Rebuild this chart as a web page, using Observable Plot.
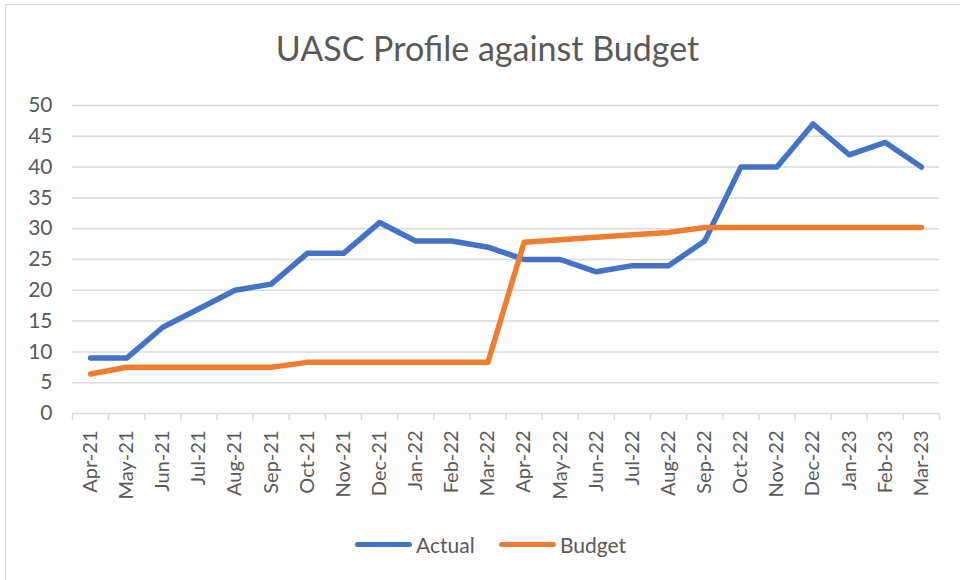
<!DOCTYPE html>
<html>
<head>
<meta charset="utf-8">
<script src="https://cdn.jsdelivr.net/npm/d3@7"></script>
<script src="https://cdn.jsdelivr.net/npm/@observablehq/plot@0.6"></script>
<style>
  html, body { margin: 0; padding: 0; background: #fff; overflow: hidden; }
  body { width: 960px; height: 580px; position: relative; font-family: Lato, "Open Sans", sans-serif; color: #595959; }
  #frame { position: absolute; left: 5px; top: 4px; width: 1000px; height: 620px; border: 1.5px solid #d9d9d9; box-sizing: border-box; }
  #title { position: absolute; left: 0; width: 975px; top: 28px; text-align: center; font-size: 34px; line-height: 40px; color: #595959; }
  #chart { position: absolute; left: 0; top: 80px; }
  #legend { position: absolute; top: 530px; left: 0; width: 960px; height: 28px; }
  .lg { position: absolute; top: 0; height: 28px; display: flex; align-items: center; font-size: 21px; color: #595959; }
  .sw { display: inline-block; width: 57px; height: 5px; border-radius: 3px; margin-right: 4px; }
</style>
</head>
<body>
<div id="frame"></div>
<div id="title">UASC Profile against Budget</div>
<div id="chart"></div>
<div id="legend">
  <div class="lg" style="left:355px"><span class="sw" style="background:#4472C4"></span>Actual</div>
  <div class="lg" style="left:499px"><span class="sw" style="background:#ED7D31"></span>Budget</div>
</div>
<script>
const months = ["Apr-21","May-21","Jun-21","Jul-21","Aug-21","Sep-21","Oct-21","Nov-21","Dec-21","Jan-22","Feb-22","Mar-22",
                "Apr-22","May-22","Jun-22","Jul-22","Aug-22","Sep-22","Oct-22","Nov-22","Dec-22","Jan-23","Feb-23","Mar-23"];
const actual = [9, 9, 14, 17, 20, 21, 26, 26, 31, 28, 28, 27, 25, 25, 23, 24, 24, 28, 40, 40, 47, 42, 44, 40];
const budget = [6.4, 7.5, 7.5, 7.5, 7.5, 7.5, 8.3, 8.3, 8.3, 8.3, 8.3, 8.3,
                27.8, 28.2, 28.6, 29.0, 29.4, 30.2, 30.2, 30.2, 30.2, 30.2, 30.2, 30.2];
const yTicks = [0, 5, 10, 15, 20, 25, 30, 35, 40, 45, 50];
const seriesNames = ["Actual", "Budget"];
const seriesColors = ["#4472C4", "#ED7D31"];

const rows = [];
months.forEach((m, i) => {
  rows.push({i, month: m, series: seriesNames[0], value: actual[i]});
  rows.push({i, month: m, series: seriesNames[1], value: budget[i]});
});
const idx = months.map((m, i) => i);
const boundaries = months.map((m, i) => i - 0.5).concat([months.length - 0.5]);

const plot = Plot.plot({
  width: 960,
  height: 430,
  marginLeft: 72,
  marginRight: 21,
  marginTop: 25,
  marginBottom: 97,
  style: { fontFamily: "Lato, 'Open Sans', sans-serif", color: "#595959", background: "transparent" },
  x: { type: "linear", domain: [-0.5, months.length - 0.5] },
  y: { domain: [0, 50] },
  color: { domain: seriesNames, range: seriesColors },
  marks: [
    Plot.gridY(yTicks, { stroke: "#d9d9d9", strokeOpacity: 1, strokeWidth: 1.5 }),
    Plot.axisY(yTicks, { tickSize: 0, tickPadding: 20, fontSize: 21, fill: "#595959", label: null }),
    Plot.axisX(boundaries, { tickSize: 7, tickFormat: () => "", stroke: "#d9d9d9", strokeWidth: 1.5, label: null }),
    Plot.axisX(idx, { tickSize: 0, tickPadding: 17, tickRotate: -90, tickFormat: i => months[i], fontSize: 20, fill: "#595959", label: null }),
    Plot.line(rows, { x: "i", y: "value", z: "series", stroke: "series", strokeWidth: 5.5, strokeLinecap: "round", strokeLinejoin: "round" })
  ]
});
document.getElementById("chart").appendChild(plot);
</script>
</body>
</html>
